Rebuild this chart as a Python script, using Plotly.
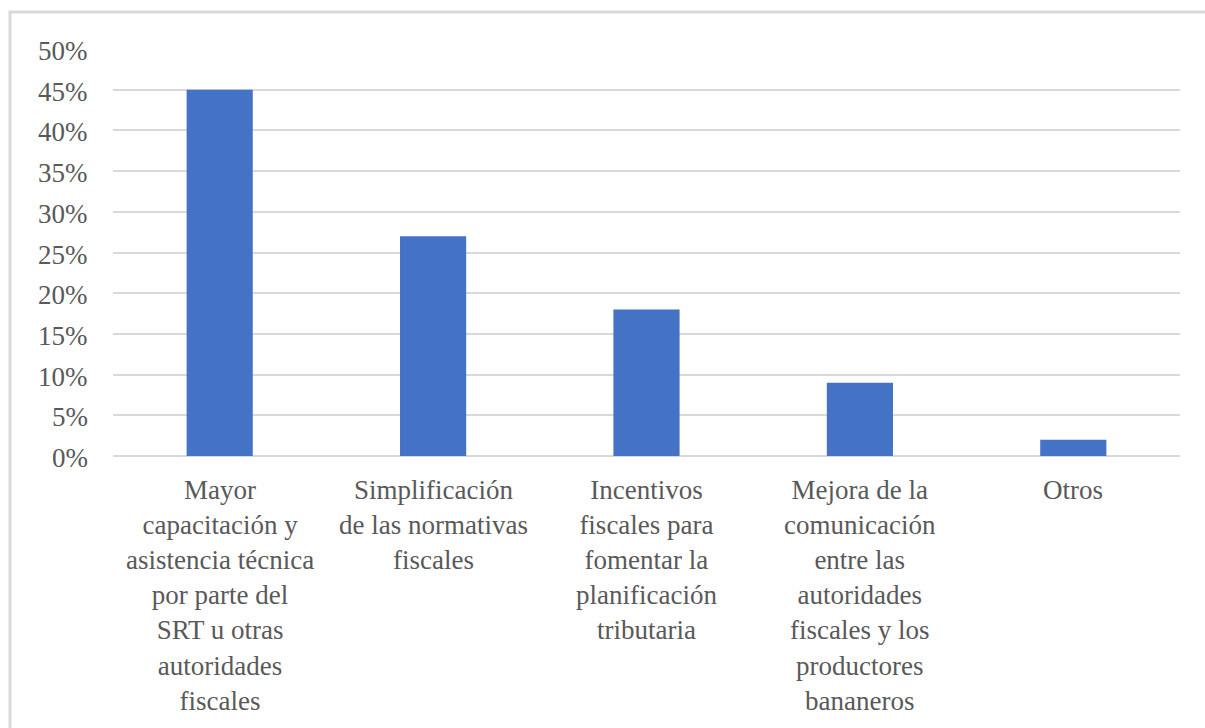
import plotly.graph_objects as go

# Category labels, one list entry per printed line
category_lines = [
    ["Mayor", "capacitación y", "asistencia técnica", "por parte del",
     "SRT u otras", "autoridades", "fiscales"],
    ["Simplificación", "de las normativas", "fiscales"],
    ["Incentivos", "fiscales para", "fomentar la", "planificación", "tributaria"],
    ["Mejora de la", "comunicación", "entre las", "autoridades",
     "fiscales y los", "productores", "bananeros"],
    ["Otros"],
]
shares = [0.45, 0.27, 0.18, 0.09, 0.02]
y_ticks = [0, 0.05, 0.10, 0.15, 0.20, 0.25, 0.30, 0.35, 0.40, 0.45, 0.50]

categories = ["<br>".join(lines) for lines in category_lines]

W, H = 1205, 728
ML, MR, MT, MB = 113, 25, 49, 272
TEXT = "#595959"
GRID = "#d9d9d9"
FONT = "Liberation Serif"
FSIZE = 27

fig = go.Figure(
    go.Bar(
        x=categories,
        y=shares,
        marker=dict(color="#4472C4", line=dict(width=0)),
        width=0.31,
    )
)

# Category labels below the axis, written as annotations in the serif face
for cat in categories:
    fig.add_annotation(
        x=cat, xref="x", y=0, yref="paper",
        yanchor="top", xanchor="center", yshift=-17,
        text=cat, showarrow=False, align="center",
        font=dict(family=FONT, size=FSIZE, color=TEXT),
    )

# Percentage labels to the left of the gridlines
for v in y_ticks:
    fig.add_annotation(
        x=0, xref="paper", y=v, yref="y",
        xanchor="right", yanchor="middle", xshift=-23, yshift=-2,
        text=f"{v:.0%}", showarrow=False,
        font=dict(family=FONT, size=FSIZE, color=TEXT),
    )

# Outer frame around the whole chart (pixel positions converted to paper units)
pw, ph = W - ML - MR, H - MT - MB
def px_x(p):
    return (p - ML) / pw
def px_y(p):
    return (H - MB - p) / ph

fig.add_shape(
    type="rect", xref="paper", yref="paper",
    x0=px_x(10), x1=px_x(1210), y0=px_y(12), y1=px_y(740),
    line=dict(color=GRID, width=3), fillcolor="rgba(0,0,0,0)", layer="below",
)

fig.update_layout(
    width=W, height=H,
    margin=dict(l=ML, r=MR, t=MT, b=MB, pad=0),
    paper_bgcolor="white", plot_bgcolor="white",
    showlegend=False,
    bargap=0.69,
)
fig.update_xaxes(
    showgrid=False, showline=False, zeroline=False,
    ticks="", showticklabels=False,
)
fig.update_yaxes(
    range=[0, 0.5], tickvals=y_ticks,
    showgrid=True, gridcolor=GRID, gridwidth=2,
    zeroline=True, zerolinecolor=GRID, zerolinewidth=2,
    showline=False, ticks="", showticklabels=False,
)

fig.write_html("out.html")
